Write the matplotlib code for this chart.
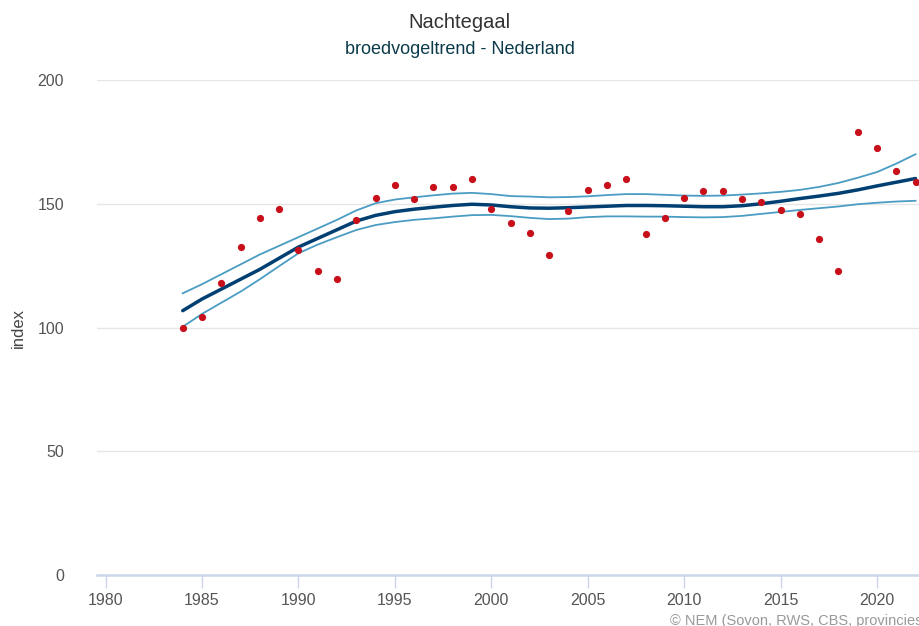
import numpy as np
import matplotlib
matplotlib.use('Agg')
from matplotlib import pyplot as plt

plt.rcParams['font.family'] = ['Liberation Sans', 'DejaVu Sans']

##

years = list(range(1984, 2023))

# observed index values (red dots)
index_obs = [100.0, 104.2, 117.9, 132.5, 144.1, 147.9, 131.3, 122.8, 119.6, 143.4,
             152.4, 157.6, 151.8, 156.9, 156.9, 160.1, 147.9, 142.1, 138.3, 129.3,
             147.2, 155.7, 157.6, 160.1, 137.7, 144.1, 152.4, 155.0, 155.0, 151.8,
             150.7, 147.3, 146.0, 135.8, 122.8, 178.9, 172.4, 163.4, 158.8]

# smoothed trend + upper/lower bounds
trend = [106.8, 111.5, 115.5, 119.5, 123.5, 128.0, 132.5, 136.0, 139.5, 143.0,
         145.3, 146.8, 147.8, 148.6, 149.3, 149.8, 149.5, 148.8, 148.3, 148.2,
         148.4, 148.7, 149.0, 149.3, 149.3, 149.2, 149.0, 148.8, 148.8, 149.2,
         150.0, 151.0, 152.1, 153.1, 154.2, 155.6, 157.2, 158.7, 160.2]
upper = [113.8, 117.5, 121.5, 125.5, 129.5, 133.0, 136.5, 140.0, 143.5, 147.3,
         150.2, 151.7, 152.6, 153.4, 154.1, 154.4, 153.9, 153.1, 152.9, 152.6,
         152.7, 153.0, 153.5, 153.9, 153.9, 153.6, 153.3, 153.2, 153.3, 153.7,
         154.2, 154.8, 155.6, 156.8, 158.4, 160.5, 162.8, 166.2, 170.0]
lower = [100.3, 105.5, 110.0, 114.5, 119.5, 124.8, 130.0, 133.5, 136.5, 139.4,
         141.4, 142.6, 143.5, 144.1, 144.8, 145.4, 145.5, 145.0, 144.3, 143.8,
         144.0, 144.6, 144.9, 144.9, 144.8, 144.8, 144.6, 144.5, 144.6, 145.1,
         145.9, 146.7, 147.5, 148.2, 148.9, 149.8, 150.4, 150.9, 151.2]

xticks = list(range(1980, 2021, 5))
yticks = [0, 50, 100, 150, 200]

##

W, H = 919, 626
fig = plt.figure(figsize=(W/100, H/100), dpi=100)
ax = fig.add_axes([97.3/W, 1 - 575/H, 1 - 97.3/W, (575 - 80)/H])

ax.set_xlim(1979.57, 2022.18)
ax.set_ylim(0, 200)

for yv in yticks[1:]:
    ax.axhline(yv, color='#e6e6e6', lw=1, zorder=0)

ax.plot(years, upper, color='#4a9cc2', lw=1.3, zorder=2)
ax.plot(years, lower, color='#4a9cc2', lw=1.3, zorder=2)
ax.plot(years, trend, color='#003f72', lw=2.5, zorder=3, solid_capstyle='round')
ax.scatter(years, index_obs, s=27, color='#c8101a', zorder=4, linewidths=0)

for s in ['top', 'right', 'left']:
    ax.spines[s].set_visible(False)
ax.spines['bottom'].set_color('#ccd6eb')
ax.spines['bottom'].set_linewidth(1.8)

ax.set_xticks(xticks)
ax.set_yticks(yticks)
ax.tick_params(axis='x', colors='#ccd6eb', length=9, width=1, labelcolor='#555555',
               labelsize=11.5, pad=4)
ax.tick_params(axis='y', length=0, labelcolor='#555555', labelsize=11.5, pad=24)
ax.set_ylabel('index', color='#444444', fontsize=12)
ax.yaxis.set_label_coords((26 - 97.3)/(W - 97.3), 0.5)

fig.text(0.5, 1 - 22/H, 'Nachtegaal', ha='center', va='center', fontsize=14.5, color='#333333')
fig.text(0.5, 1 - 50/H, 'broedvogeltrend - Nederland', ha='center', va='center',
         fontsize=13, color='#0b3b4a')
fig.text(670/W, 1 - 621/H, '© NEM (Sovon, RWS, CBS, provincies)', ha='left', va='center',
         fontsize=10.5, color='#999999')

fig.savefig('out.png', dpi=100)
